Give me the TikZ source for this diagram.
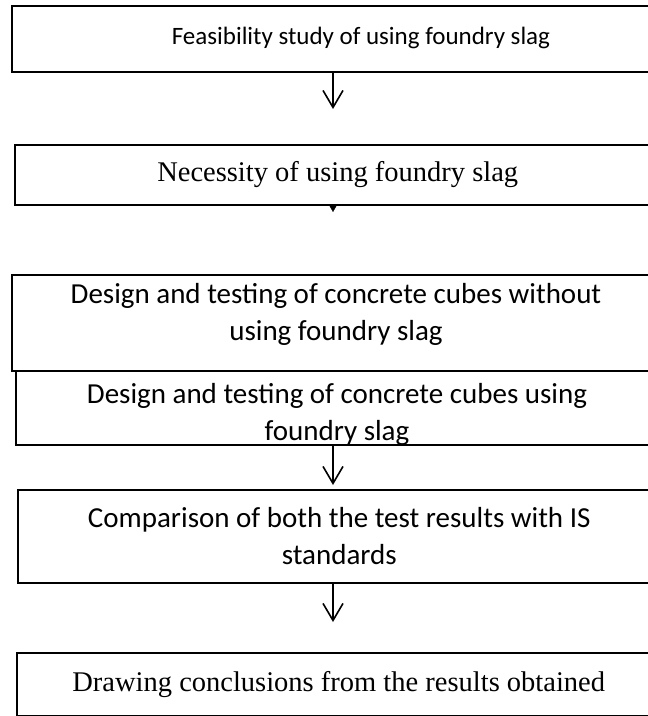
\documentclass[tikz,border=0pt]{standalone}
\usepackage{fontspec}
\setmainfont{Liberation Serif}
\newfontfamily\calfont{Carlito}
\usetikzlibrary{arrows.meta}
\begin{document}
\begin{tikzpicture}[x=1pt,y=-1pt,
  box/.style={draw, line width=1.5pt, rectangle, inner sep=0pt, align=center, anchor=north west},
  thick box/.style={box, line width=2pt},
  txt/.style={inner sep=0pt, align=center},
  cal/.style={font=\calfont\fontsize{29}{37}\selectfont},
  tms/.style={font=\fontsize{28.5}{34}\selectfont},
  arr/.style={line width=1.6pt, -{Straight Barb[length=17pt,width=20pt,line width=1.6pt]}},
  tri/.style={-{Triangle[length=8pt,width=9pt]}}]
\useasboundingbox (0,0) rectangle (648,716);
\clip (0,0) rectangle (648,716);
% boxes
\node[thick box,minimum width=649pt,minimum height=66pt] (b1) at (11,5) {};
\node[txt,font=\calfont\fontsize{25}{31}\selectfont] (b1t) at (361,38) {Feasibility study of using foundry slag};
\node[box,tms,minimum width=646pt,minimum height=60pt] (b2) at (14,144) {Necessity of using foundry slag};
\node[box,minimum width=645pt,minimum height=74pt] (b4) at (15,370) {};
\begin{scope}
\clip (b4.north west) rectangle (b4.south east);
\node[txt,cal] (b4t) at (337,414) {Design and testing of concrete cubes using\\foundry slag};
\end{scope}
\node[thick box,minimum width=649pt,minimum height=96pt] (b3) at (11,274) {};
\node[txt,cal] (b3t) at (336,314) {Design and testing of concrete cubes without\\using foundry slag};
\node[box,cal,minimum width=643pt,minimum height=93pt] (b5) at (17,489) {Comparison of both the test results with IS\\standards};
\node[box,tms,minimum width=644pt,minimum height=63pt] (b6) at (16,652) {Drawing conclusions from the results obtained};
% connectors
\coordinate (e1) at (333,109);
\coordinate (e2) at (333,212);
\coordinate (e3) at (333,485);
\coordinate (e4) at (333,622);
\draw[arr] (b1.south -| e1) -- (e1);
\draw[tri] (b2.south -| e2) -- (e2);
\draw[arr] (b4.south -| e3) -- (e3);
\draw[arr] (b5.south -| e4) -- (e4);
\end{tikzpicture}
\end{document}
